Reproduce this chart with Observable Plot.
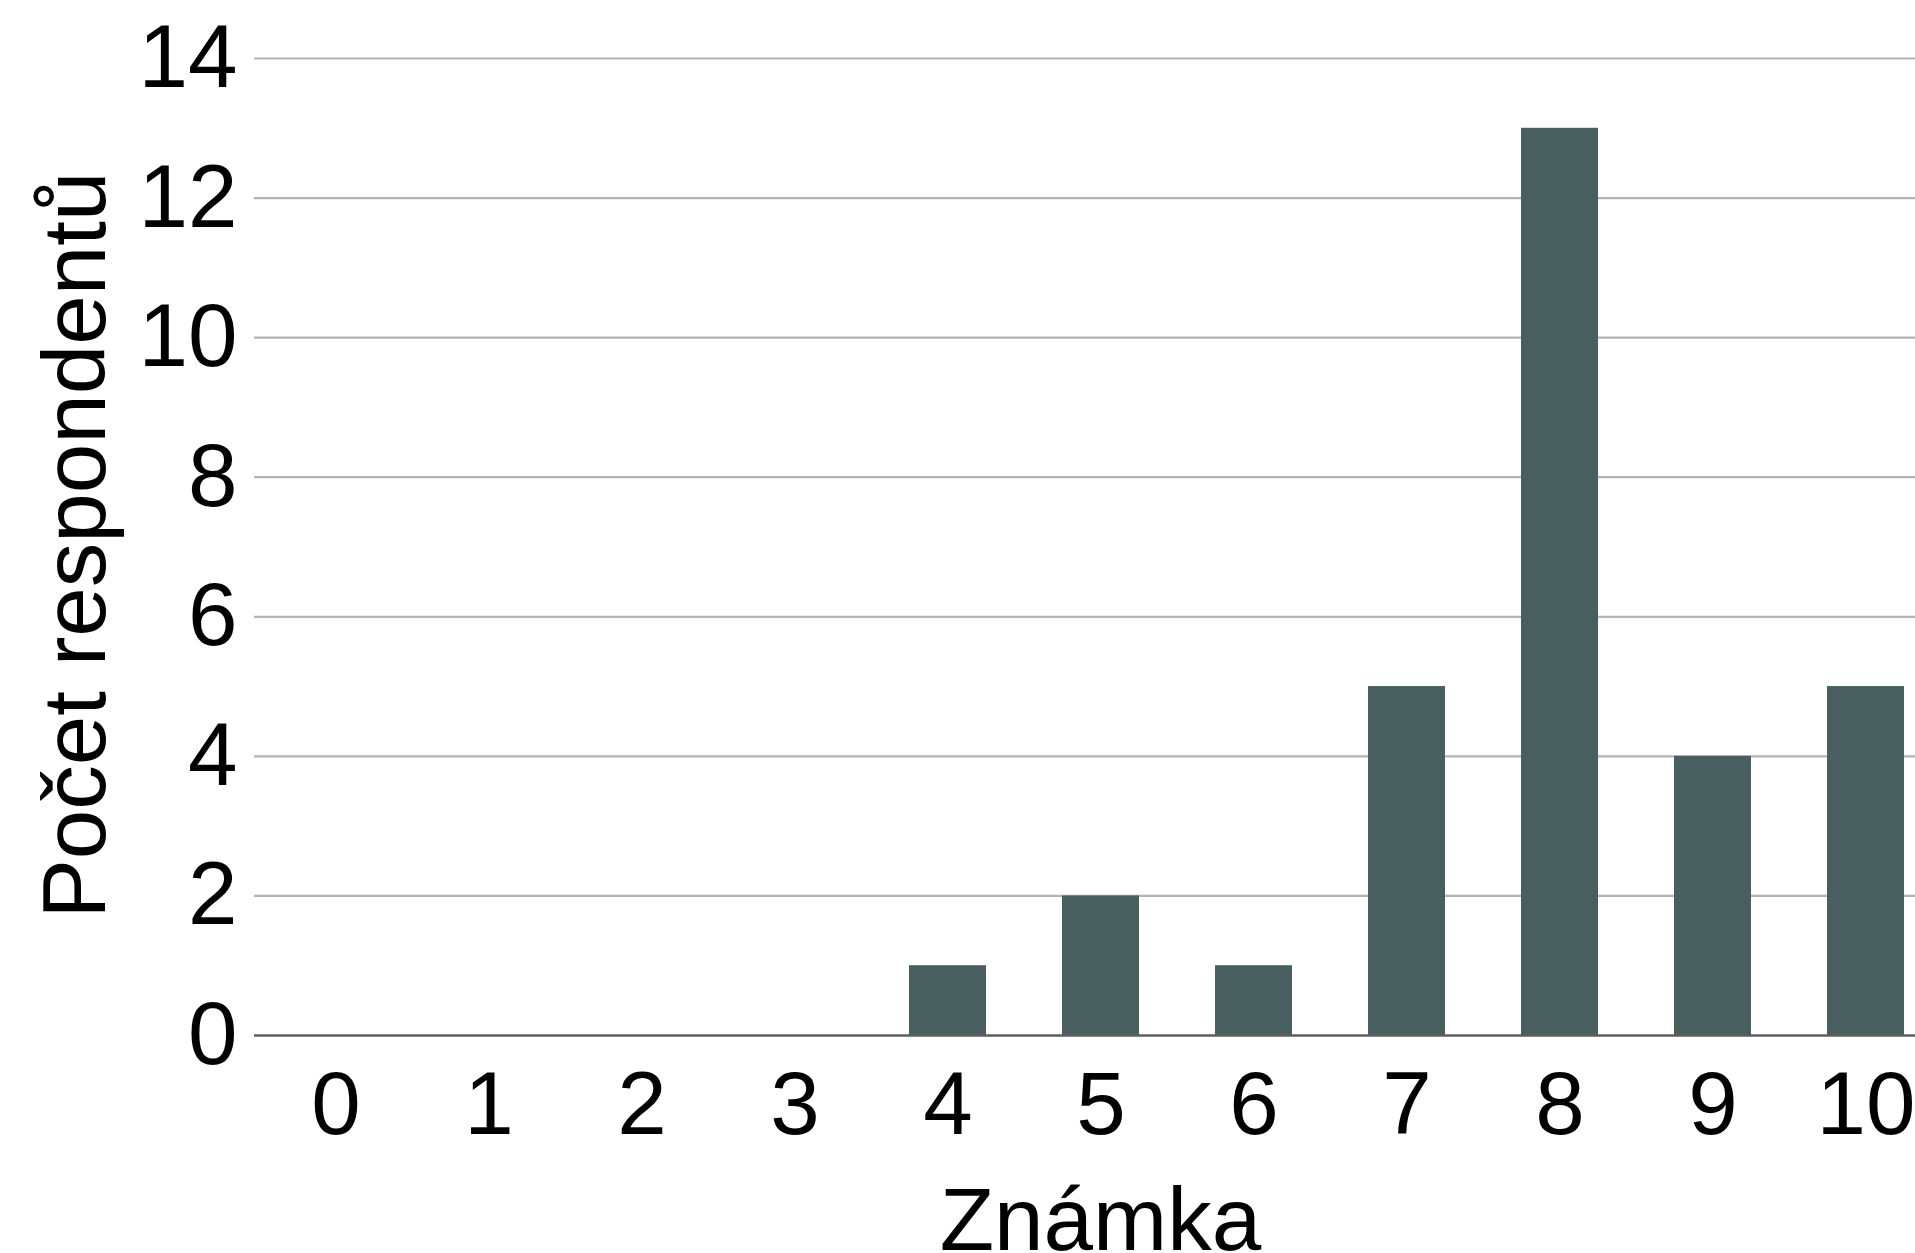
<!DOCTYPE html>
<html lang="cs">
<head>
<meta charset="utf-8">
<title>Počet respondentů podle známky</title>
<script src="https://cdn.jsdelivr.net/npm/d3@7"></script>
<script src="https://cdn.jsdelivr.net/npm/@observablehq/plot@0.6"></script>
<style>
  html, body { margin: 0; padding: 0; background: #fff; overflow: hidden; }
  #chart { width: 1915px; height: 1253px; overflow: hidden; }
</style>
</head>
<body>
<div id="chart"></div>
<script>
// Grades (x categories) and respondent counts per grade
const grades = ["0", "1", "2", "3", "4", "5", "6", "7", "8", "9", "10"];
const counts = [0, 0, 0, 0, 1, 2, 1, 5, 13, 4, 5];
const yTicks = [0, 2, 4, 6, 8, 10, 12, 14];

const xTitle = "Známka";
const yTitle = "Počet respondentů";

const data = grades.map((g, i) => ({grade: g, count: counts[i]}));

const font = "'Liberation Sans', Arial, sans-serif";
const fontSize = 89;

const chart = Plot.plot({
  width: 1946,
  height: 1253,
  marginLeft: 254,
  marginRight: 0,
  marginTop: 58,
  marginBottom: 218,
  style: {fontFamily: font, fontSize: `${fontSize}px`, color: "#000", background: "#fff", maxWidth: "none"},
  x: {domain: grades, paddingInner: 0.5, paddingOuter: 0.25, label: null},
  y: {domain: [0, 14], label: null},
  marks: [
    Plot.ruleY(yTicks.filter(d => d !== 0), {stroke: "#b4b4b4", strokeWidth: 2.2}),
    Plot.barY(data, {x: "grade", y: "count", fill: "#485e5f"}),
    Plot.ruleY([0], {stroke: "#5e5e5e", strokeWidth: 2.6}),
    Plot.axisY({ticks: yTicks, tickSize: 0, tickPadding: 17, tickFormat: d => String(d), fontSize, label: null}),
    Plot.axisX({tickSize: 0, tickPadding: 35, fontSize, label: null}),
    // axis titles, centred on the plotting frame
    Plot.text([xTitle], {frameAnchor: "bottom", textAnchor: "middle", lineAnchor: "middle", dy: 186, fontSize, fill: "#000"}),
    Plot.text([yTitle], {frameAnchor: "left", textAnchor: "middle", lineAnchor: "middle", dx: -178, dy: -2, rotate: -90, fontSize, fill: "#000"})
  ]
});

document.getElementById("chart").append(chart);
</script>
</body>
</html>
